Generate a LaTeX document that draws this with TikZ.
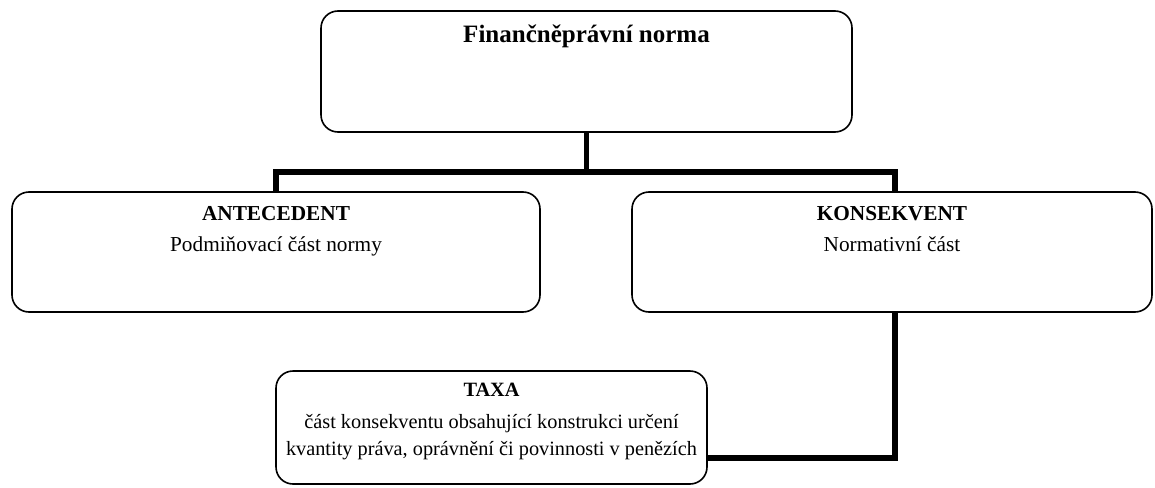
\documentclass[tikz,border=0pt]{standalone}
\usepackage{fontspec}
\setmainfont{Liberation Serif}
\begin{document}
\begin{tikzpicture}[x=1pt,y=-1pt,
  box/.style={draw=black,line width=1.6pt,rounded corners=17pt,inner sep=0pt},
  conn/.style={draw=black,line width=5.5pt},
  txt/.style={anchor=base,inner sep=0pt,font=\fontsize{21.3}{25}\selectfont},
  btxt/.style={txt,font=\fontsize{21.3}{25}\selectfont\bfseries},
  ttxt/.style={txt,font=\fontsize{20.3}{24}\selectfont},
  tbtxt/.style={txt,font=\fontsize{20.3}{24}\selectfont\bfseries},
  titletxt/.style={txt,font=\fontsize{25}{29}\selectfont\bfseries}]
\useasboundingbox (0,0) rectangle (1155,487);
\fill[white] (0,0) rectangle (1155,487);
% boxes
\node[box,minimum width=531pt,minimum height=121pt] (top) at (586.5,71.5) {};
\node[box,minimum width=528pt,minimum height=120pt] (ant) at (276,252) {};
\node[box,minimum width=520pt,minimum height=120pt] (kon) at (892,252) {};
\node[box,minimum width=431pt,minimum height=113pt] (taxa) at (491.5,427.5) {};
% connectors
\coordinate (j) at (586.5,172);
\draw[conn] (top.south) -- (j);
\draw[conn] (ant.north) |- (j) -| ([xshift=3pt]kon.north);
\draw[conn] ([xshift=3pt]kon.south) |- ([yshift=-30.5pt]taxa.east);
% texts
\node[titletxt] (t1) at (586.5,43) {Finančněprávní norma};
\node[btxt] (a1) at (276,220) {ANTECEDENT};
\node[txt] (a2) at (276,251) {Podmiňovací část normy};
\node[btxt] (k1) at (892,220) {KONSEKVENT};
\node[txt] (k2) at (892,251) {Normativní část};
\node[tbtxt] (x1) at (491.5,396) {TAXA};
\node[ttxt] (x2) at (491.5,428) {část konsekventu obsahující konstrukci určení};
\node[ttxt] (x3) at (491.5,455) {kvantity práva, oprávnění či povinnosti v penězích};
\end{tikzpicture}
\end{document}
